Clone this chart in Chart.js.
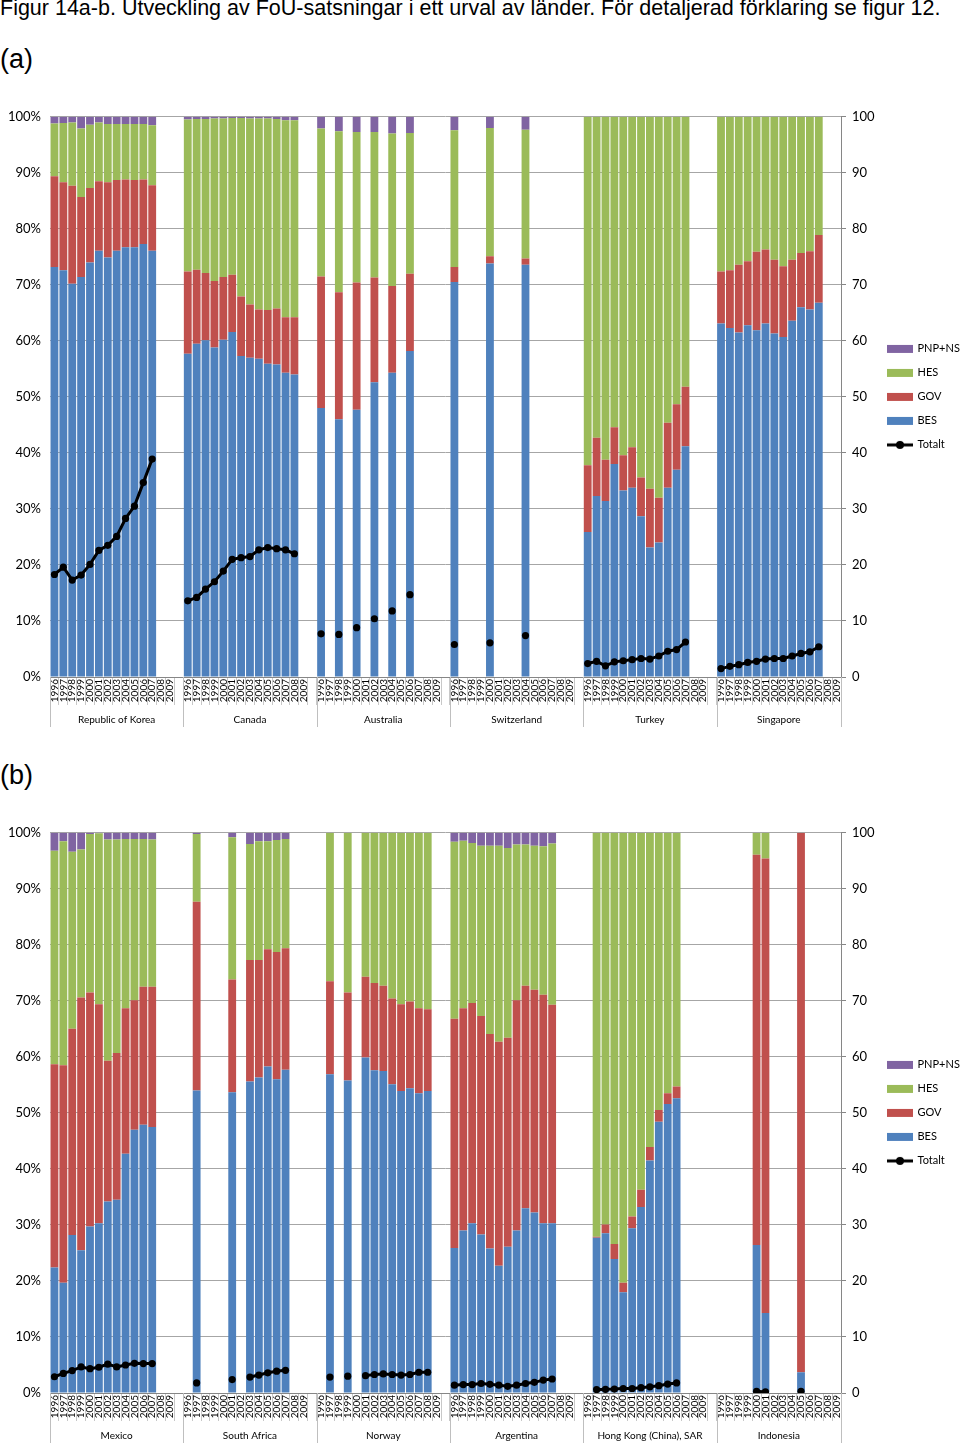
<!DOCTYPE html>
<html><head><meta charset="utf-8">
<script src="https://cdn.jsdelivr.net/npm/chart.js@4.4.1/dist/chart.umd.min.js"></script>
<style>
html,body{margin:0;padding:0;background:#fff}
body{width:960px;height:1446px;overflow:hidden;position:relative;font-family:'Liberation Sans',Arial,sans-serif;color:#000}
#title{position:absolute;left:0;top:-4px;font-size:21.5px;white-space:nowrap}
.lab{position:absolute;left:0;font-size:27px}
.wrap{position:absolute;left:0;width:960px;height:630px}
</style></head><body>
<div id="title">Figur 14a-b. Utveckling av FoU-satsningar i ett urval av länder. För detaljerad förklaring se figur 12.</div>
<div class="lab" style="top:44px">(a)</div>
<div class="wrap" style="top:100px"><canvas id="ca" width="960" height="630"></canvas></div>
<div class="lab" style="top:760px">(b)</div>
<div class="wrap" style="top:816px"><canvas id="cb" width="960" height="630"></canvas></div>
<script>
const _ = null;
const years = ['1996','1997','1998','1999','2000','2001','2002','2003','2004','2005','2006','2007','2008','2009'];
const seriesNames = ['BES','GOV','HES','PNP+NS','Totalt'];

// ---------- Panel (a) ----------
const groupsA = ['Republic of Korea','Canada','Australia','Switzerland','Turkey','Singapore'];
const besA = [
  [73.2,72.6,70.2,71.4,74.0,76.1,74.9,76.1,76.7,76.7,77.3,76.1,_,_],
  [57.7,59.5,60.1,58.8,60.2,61.6,57.3,57.0,56.8,55.9,55.8,54.3,54.0,_],
  [48.0,_,46.0,_,47.7,_,52.6,_,54.3,_,58.2,_,_,_],
  [70.5,_,_,_,73.8,_,_,_,73.6,_,_,_,_,_],
  [25.9,32.3,31.4,38.0,33.3,33.8,28.7,23.1,24.0,33.8,37.0,41.2,_,_],
  [63.1,62.3,61.5,62.8,61.9,63.1,61.3,60.7,63.6,66.0,65.6,66.8,_,_]
];
const govA = [
  [16.2,15.7,17.5,14.3,13.3,12.4,13.4,12.6,12.1,12.0,11.5,11.7,_,_],
  [14.7,13.2,12.0,11.9,11.2,10.2,10.6,9.5,8.8,9.6,10.0,9.9,10.2,_],
  [23.5,_,22.7,_,22.7,_,18.7,_,15.5,_,13.8,_,_,_],
  [2.7,_,_,_,1.3,_,_,_,1.1,_,_,_,_,_],
  [11.9,10.4,7.4,6.6,6.3,7.2,6.9,10.5,8.0,11.6,11.7,10.6,_,_],
  [9.3,10.3,12.1,11.4,14.0,13.2,13.2,12.6,10.9,9.7,10.4,12.1,_,_]
];
const hesA = [
  [9.4,10.6,11.3,12.2,11.3,10.5,10.4,10.0,9.9,10.0,9.9,10.7,_,_],
  [27.1,26.9,27.5,29.0,28.3,28.0,31.9,33.2,34.1,34.2,33.8,35.2,35.2,_],
  [26.4,_,28.7,_,26.9,_,26.0,_,27.2,_,25.1,_,_,_],
  [24.4,_,_,_,22.9,_,_,_,23.0,_,_,_,_,_],
  [62.2,57.3,61.2,55.4,60.4,59.0,64.4,66.4,68.0,54.6,51.3,48.2,_,_],
  [27.6,27.4,26.4,25.8,24.1,23.7,25.5,26.7,25.5,24.3,24.0,21.1,_,_]
];
const pnpA = [
  [1.2,1.1,1.0,2.1,1.4,1.0,1.3,1.3,1.3,1.3,1.3,1.5,_,_],
  [0.5,0.4,0.4,0.3,0.3,0.2,0.2,0.3,0.3,0.3,0.4,0.6,0.6,_],
  [2.1,_,2.6,_,2.7,_,2.7,_,3.0,_,2.9,_,_,_],
  [2.4,_,_,_,2.0,_,_,_,2.3,_,_,_,_,_],
  [0,0,0,0,0,0,0,0,0,0,0,0,_,_],
  [0,0,0,0,0,0,0,0,0,0,0,0,_,_]
];
const totA = [
  [18.3,19.6,17.3,18.2,20.1,22.6,23.5,25.1,28.3,30.5,34.7,38.9,_,_],
  [13.6,14.2,15.7,17.0,18.9,21.0,21.3,21.5,22.7,23.1,22.9,22.7,22.0,_],
  [7.7,_,7.6,_,8.8,_,10.4,_,11.8,_,14.7,_,_,_],
  [5.8,_,_,_,6.1,_,_,_,7.4,_,_,_,_,_],
  [2.4,2.8,2.0,2.7,2.9,3.1,3.3,3.2,3.75,4.6,4.9,6.25,_,_],
  [1.5,1.9,2.2,2.6,2.8,3.2,3.3,3.3,3.75,4.2,4.5,5.4,_,_]
];

// ---------- Panel (b) ----------
const groupsB = ['Mexico','South Africa','Norway','Argentina','Hong Kong (China), SAR','Indonesia'];
const besB = [
  [22.4,19.7,28.2,25.5,29.7,30.3,34.2,34.5,42.7,47.0,47.9,47.5,_,_],
  [_,54.0,_,_,_,53.7,_,55.6,56.3,58.3,56.0,57.7,_,_],
  [_,56.9,_,55.8,_,59.9,57.6,57.5,55.1,53.9,54.4,53.5,53.9,_],
  [25.9,29.0,30.3,28.3,25.8,22.7,26.1,29.0,33.0,32.2,30.3,30.3,_,_],
  [_,27.7,28.5,23.9,18.0,29.4,33.2,41.5,48.4,51.6,52.6,_,_,_],
  [_,_,_,_,26.4,14.3,_,_,_,3.7,_,_,_,_]
];
const govB = [
  [36.3,38.8,36.8,45.1,41.8,39.1,25.1,26.2,26.0,23.1,24.6,25.0,_,_],
  [_,33.7,_,_,_,20.1,_,21.7,21.0,20.9,22.7,21.7,_,_],
  [_,16.6,_,15.7,_,14.4,15.6,15.2,15.3,15.5,15.5,15.2,14.6,_],
  [40.9,39.7,39.3,39.0,38.3,40.0,37.3,41.1,39.7,39.8,40.8,39.0,_,_],
  [_,0.2,1.6,2.7,1.7,2.1,3.1,2.4,2.1,1.9,2.1,_,_,_],
  [_,_,_,_,69.7,81.1,_,_,_,96.3,_,_,_,_]
];
const hesB = [
  [38.1,40.0,31.6,26.4,28.3,30.5,39.5,38.1,30.2,28.8,26.4,26.3,_,_],
  [_,12.1,_,_,_,25.4,_,20.7,21.2,19.3,20.0,19.5,_,_],
  [_,26.5,_,28.5,_,25.7,26.8,27.3,29.6,30.6,30.1,31.3,31.5,_],
  [31.6,29.9,28.6,30.4,33.6,35.0,33.9,27.8,25.2,25.7,26.5,28.8,_,_],
  [_,72.1,69.9,73.4,80.3,68.5,63.7,56.1,49.5,46.5,45.3,_,_,_],
  [_,_,_,_,3.9,4.6,_,_,_,0,_,_,_,_]
];
const pnpB = [
  [3.2,1.5,3.4,3.0,0.2,0.1,1.2,1.2,1.1,1.1,1.1,1.2,_,_],
  [_,0.2,_,_,_,0.8,_,2.0,1.5,1.5,1.3,1.1,_,_],
  [_,0,_,0,_,0,0,0,0,0,0,0,0,_],
  [1.6,1.4,1.8,2.3,2.3,2.3,2.7,2.1,2.1,2.3,2.4,1.9,_,_],
  [_,0,0,0,0,0,0,0,0,0,0,_,_,_],
  [_,_,_,_,0,0,_,_,_,0,_,_,_,_]
];
const totB = [
  [2.9,3.5,4.0,4.65,4.35,4.6,5.15,4.65,5.0,5.3,5.25,5.25,_,_],
  [_,1.8,_,_,_,2.4,_,2.85,3.2,3.6,3.9,4.05,_,_],
  [_,2.85,_,3.0,_,3.1,3.3,3.4,3.3,3.2,3.3,3.7,3.7,_],
  [1.4,1.5,1.5,1.7,1.55,1.4,1.2,1.4,1.7,1.9,2.3,2.5,_,_],
  [_,0.6,0.65,0.7,0.8,0.8,0.95,1.1,1.3,1.6,1.8,_,_,_],
  [_,_,_,_,0.3,0.2,_,_,_,0.3,_,_,_,_]
];

// ---------- helpers ----------
const COLORS = {BES:'#4F81BD', GOV:'#C0504D', HES:'#9BBB59', 'PNP+NS':'#8064A2', Totalt:'#000000'};
const FONT = "Lato, 'Open Sans', sans-serif";

function flatten(groups){
  const out = [];
  groups.forEach((g,i)=>{ if(i>0) out.push(null); out.push(...g); });
  return out;
}
function buildLabels(n){
  const out = [];
  for(let i=0;i<n;i++){ if(i>0) out.push(''); out.push(...years); }
  return out;
}
function legendIcon(name){
  const c = document.createElement('canvas');
  c.width = 26; c.height = 10;
  const g = c.getContext('2d');
  if(name==='Totalt'){
    g.strokeStyle='#000'; g.lineWidth=3;
    g.beginPath(); g.moveTo(0,5); g.lineTo(26,5); g.stroke();
    g.fillStyle='#000'; g.beginPath(); g.arc(13,5,4,0,Math.PI*2); g.fill();
  } else {
    g.fillStyle = COLORS[name]; g.fillRect(0,1,26,8);
  }
  return c;
}
const legendOrder = {'PNP+NS':0,'HES':1,'GOV':2,'BES':3,'Totalt':4};

const groupPlugin = {
  id:'groupLabels',
  afterDraw(chart, args, opts){
    const {ctx, chartArea} = chart;
    const x = chart.scales.x;
    const half = (x.getPixelForValue(1) - x.getPixelForValue(0))/2;
    const names = opts.names;
    const bounds = [chartArea.left];
    for(let g=1; g<names.length; g++) bounds.push(x.getPixelForValue(g*15) - half);
    bounds.push(chartArea.right);
    ctx.save();
    ctx.strokeStyle = '#BFBFBF'; ctx.lineWidth = 1;
    bounds.forEach(b=>{
      const xb = Math.round(b)+0.5;
      ctx.beginPath(); ctx.moveTo(xb, chartArea.bottom); ctx.lineTo(xb, chartArea.bottom+50); ctx.stroke();
    });
    ctx.fillStyle = '#000';
    ctx.font = '10px ' + FONT;
    ctx.textAlign = 'center'; ctx.textBaseline = 'middle';
    names.forEach((n,i)=>{
      ctx.fillText(n, (bounds[i]+bounds[i+1])/2, chartArea.bottom + 43);
    });
    ctx.restore();
  }
};

function makeChart(id, groups, bes, gov, hes, pnp, tot){
  const labels = buildLabels(groups.length);
  const barDs = (label, data) => ({
    type:'bar', label, data: flatten(data), backgroundColor: COLORS[label],
    borderWidth:0, barPercentage:0.88, categoryPercentage:1.0,
    stack:'s', yAxisID:'y', order:1
  });
  new Chart(document.getElementById(id), {
    data: {
      labels,
      datasets: [
        barDs('BES', bes), barDs('GOV', gov), barDs('HES', hes), barDs('PNP+NS', pnp),
        { type:'line', label:'Totalt', data: flatten(tot), yAxisID:'y2', order:0,
          borderColor:'#000', backgroundColor:'#000', borderWidth:3,
          pointRadius:3.6, pointBackgroundColor:'#000', pointBorderWidth:0,
          spanGaps:false, tension:0 }
      ]
    },
    options: {
      responsive:false, animation:false,
      layout:{ padding:{ top:15, left:0, right:0, bottom:0 } },
      plugins:{
        tooltip:{ enabled:false },
        groupLabels:{ names: groups },
        legend:{
          position:'right', maxWidth:85, fullSize:false,
          labels:{
            usePointStyle:true, pointStyleWidth:24, padding:13,
            font:{ family:FONT, size:11 }, color:'#000',
            generateLabels(chart){
              const items = Chart.defaults.plugins.legend.labels.generateLabels(chart);
              items.forEach(it=>{ it.pointStyle = legendIcon(it.text); });
              return items;
            },
            sort:(a,b)=> legendOrder[a.text]-legendOrder[b.text]
          }
        }
      },
      scales:{
        x:{
          stacked:true, offset:true,
          grid:{ offset:true, drawOnChartArea:false, drawTicks:true, tickLength:28, color:'#C8C8C8' },
          border:{ display:true, color:'#868686' },
          ticks:{ autoSkip:false, minRotation:90, maxRotation:90, padding:-26,
                  font:{ family:FONT, size:10 }, color:'#000' },
          afterFit:(s)=>{ s.height = 53; }
        },
        y:{
          stacked:true, min:0, max:100,
          ticks:{ stepSize:10, callback:(v)=> v+'%', font:{ family:FONT, size:13 }, color:'#000', padding:9 },
          grid:{ color:'#A6A6A6', drawTicks:false },
          border:{ display:false },
          afterFit:(s)=>{ s.width = 50; }
        },
        y2:{
          position:'right', stacked:false, min:0, max:100,
          ticks:{ stepSize:10, font:{ family:FONT, size:13 }, color:'#000', padding:6 },
          grid:{ drawOnChartArea:false, tickLength:5, color:'#868686' },
          border:{ display:true, color:'#868686' },
          afterFit:(s)=>{ s.width = 34; }
        }
      }
    },
    plugins:[groupPlugin]
  });
}

makeChart('ca', groupsA, besA, govA, hesA, pnpA, totA);
makeChart('cb', groupsB, besB, govB, hesB, pnpB, totB);
</script>
</body></html>
